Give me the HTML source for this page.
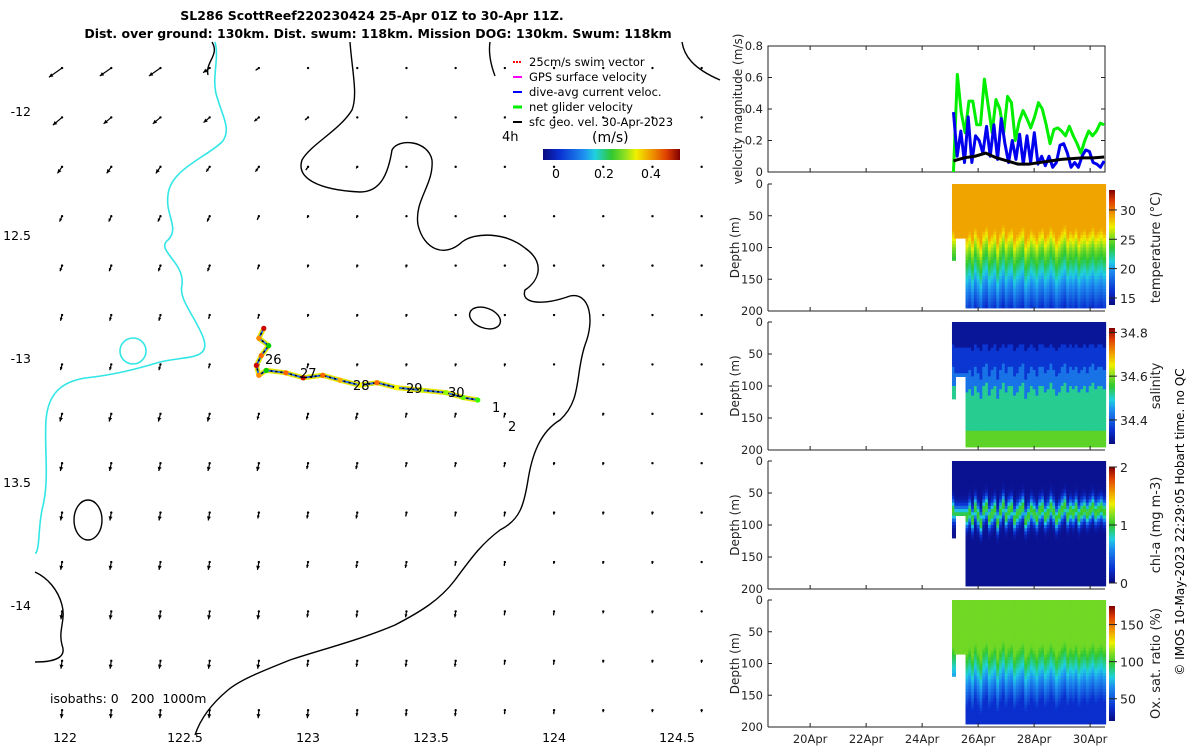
<!DOCTYPE html>
<html><head><meta charset="utf-8">
<style>
html,body{margin:0;padding:0;background:#fff;}
svg{display:block;font-family:"DejaVu Sans","Liberation Sans",sans-serif;}
</style></head>
<body>
<svg id="fig" width="1200" height="750" viewBox="0 0 1200 750" xmlns="http://www.w3.org/2000/svg">
<g font-weight="bold" font-size="12.5" text-anchor="middle" fill="#000">
<text x="372" y="20">SL286 ScottReef220230424 25-Apr 01Z to 30-Apr 11Z.</text>
<text x="378" y="38">Dist. over ground: 130km. Dist. swum: 118km. Mission DOG: 130km. Swum: 118km</text>
</g>
<defs>
<linearGradient id="cmh" x1="0" x2="1" y1="0" y2="0">
<stop offset="0" stop-color="#0a0a80"/><stop offset="0.12" stop-color="#0a30d0"/><stop offset="0.3" stop-color="#1e90f0"/><stop offset="0.38" stop-color="#20d0e0"/><stop offset="0.5" stop-color="#30c830"/><stop offset="0.6" stop-color="#90e020"/><stop offset="0.68" stop-color="#f0f000"/><stop offset="0.78" stop-color="#f0a000"/><stop offset="0.9" stop-color="#e04000"/><stop offset="1" stop-color="#800000"/>
</linearGradient>
<linearGradient id="cmv" x1="0" x2="0" y1="1" y2="0">
<stop offset="0" stop-color="#0a0a80"/><stop offset="0.12" stop-color="#0a30d0"/><stop offset="0.3" stop-color="#1e90f0"/><stop offset="0.38" stop-color="#20d0e0"/><stop offset="0.5" stop-color="#30c830"/><stop offset="0.6" stop-color="#90e020"/><stop offset="0.68" stop-color="#f0f000"/><stop offset="0.78" stop-color="#f0a000"/><stop offset="0.9" stop-color="#e04000"/><stop offset="1" stop-color="#800000"/>
</linearGradient>
</defs>
<g id="map">
<g fill="none" stroke="#000" stroke-width="1.4">
<path d="M350,42 C352,70 358,95 352,110 C340,130 310,145 302,160 C296,178 318,190 360,192 C380,192 388,175 392,150 C398,138 428,140 432,160 C434,185 414,200 418,225 C424,250 445,258 462,242 C475,232 505,232 525,248 C545,262 540,280 525,290 C520,305 545,305 570,296 C590,292 595,320 585,345 C575,375 582,400 560,420 C540,432 532,455 528,480 C524,505 520,520 500,530 C480,545 470,560 455,580 C440,600 420,612 395,625 C360,640 320,650 290,660 C260,672 240,680 228,690 C210,705 200,720 195,735"/>
<path d="M212,42 C220,55 205,62 208,75"/>
<path d="M490,42 C488,55 492,68 495,76"/>
<path d="M682,42 C684,55 692,68 720,80"/>
<ellipse cx="485" cy="318" rx="16" ry="10" transform="rotate(20 485 318)"/>
<ellipse cx="88" cy="520" rx="14" ry="20"/>
<path d="M35,572 C48,578 58,590 62,605 C66,620 58,630 62,645 C66,655 60,662 35,662"/>
</g>
<g fill="none" stroke="#33e6e6" stroke-width="1.6">
<path d="M215,42 C220,60 210,80 218,100 C222,115 232,130 222,142 C205,158 170,170 168,195 C165,215 180,228 168,240 C155,250 185,262 182,285 C178,300 198,320 204,340 C210,360 185,356 160,362 C140,368 115,375 85,378 C60,382 48,395 46,420 C44,450 50,480 42,510 C38,530 40,545 36,553 L35,553"/>
<circle cx="133" cy="351" r="13"/>
</g>
<g id="arrows"></g>
<g id="track"></g>
<g font-size="13" fill="#000">
<text x="265" y="364">26</text><text x="300" y="378">27</text><text x="353" y="390">28</text><text x="406" y="393">29</text><text x="448" y="397">30</text><text x="492" y="412">1</text><text x="508" y="431">2</text>
</g>
<g font-size="11.5" fill="#000">
<line x1="513" y1="62" x2="522" y2="62" stroke="#f00" stroke-width="2" stroke-dasharray="2 1"/><text x="529" y="66">25cm/s swim vector</text>
<line x1="513" y1="77" x2="522" y2="77" stroke="#f0f" stroke-width="2"/><text x="529" y="81">GPS surface velocity</text>
<line x1="513" y1="92" x2="522" y2="92" stroke="#00f" stroke-width="2"/><text x="529" y="96">dive-avg current veloc.</text>
<line x1="513" y1="107" x2="522" y2="107" stroke="#0e0" stroke-width="3"/><text x="529" y="111">net glider velocity</text>
<line x1="513" y1="122" x2="522" y2="122" stroke="#000" stroke-width="2"/><text x="529" y="126">sfc geo. vel. 30-Apr-2023</text>
<text x="502" y="141" font-size="13">4h</text>
<text x="592" y="142" font-size="14">(m/s)</text>
</g>
<g>
<rect x="543" y="149" width="137" height="11" fill="url(#cmh)"/>
<g font-size="12.5" text-anchor="middle"><text x="556" y="178">0</text><text x="604" y="178">0.2</text><text x="651" y="178">0.4</text></g>
</g>
<text x="50" y="703" font-size="12.5" xml:space="preserve">isobaths: 0   200  1000m</text>
<g font-size="12.5" text-anchor="middle">
<text x="65" y="742">122</text><text x="185" y="742">122.5</text><text x="308" y="742">123</text><text x="431" y="742">123.5</text><text x="554" y="742">124</text><text x="677" y="742">124.5</text>
</g>
<g font-size="12.5" text-anchor="end">
<text x="31" y="116">-12</text><text x="31" y="240">12.5</text><text x="31" y="363">-13</text><text x="31" y="487">13.5</text><text x="31" y="610">-14</text>
</g>
</g>
<g id="right"></g>
<text transform="translate(1184,522) rotate(-90)" text-anchor="middle" font-size="12">© IMOS 10-May-2023 22:29:05 Hobart time. no QC</text>
</svg>
<script>
// ---------- data ----------
const velTimesStart = 25.12, velTimesEnd = 30.5;
const netGliderVel = [0,0.62,0.38,0.25,0.45,0.45,0.3,0.3,0.59,0.42,0.25,0.46,0.4,0.25,0.48,0.44,0.2,0.32,0.39,0.34,0.28,0.35,0.44,0.4,0.3,0.18,0.27,0.28,0.26,0.23,0.29,0.23,0.18,0.12,0.2,0.26,0.23,0.26,0.31,0.3];
const diveAvgVel = [0.38,0.1,0.26,0.06,0.35,0.06,0.23,0.2,0.12,0.29,0.1,0.3,0.08,0.34,0.18,0.06,0.2,0.08,0.24,0.05,0.23,0.06,0.25,0.05,0.1,0.04,0.1,0.03,0.06,0.17,0.18,0.12,0.03,0.06,0.03,0.1,0.14,0.13,0.06,0.05,0.03,0.07];
const geoVel = [0.07,0.09,0.1,0.12,0.09,0.07,0.05,0.05,0.06,0.07,0.08,0.085,0.09,0.09,0.095];
const velTicks = [0,0.2,0.4,0.6,0.8];
const dateTicks = [20,22,24,26,28,30];
const dateLabels = ["20Apr","22Apr","24Apr","26Apr","28Apr","30Apr"];
const profileStart = 25.55, profileStep = 0.1;
const mixedLayerDepth = [80,72,85,66,78,90,70,64,82,75,68,88,72,62,80,70,66,84,76,70,64,86,78,68,74,82,70,66,80,74,64,72,84,76,68,62,78,70,74,66,80,72,68,76,70,64,74,70,66,72];
const depthTicks = [0,50,100,150,200];
const trackLon = [122.81,122.79,122.83,122.8,122.78,122.79,122.82,122.9,122.97,123.05,123.12,123.2,123.27,123.35,123.45,123.55,123.62,123.68];
const trackLat = [-12.88,-12.92,-12.95,-12.99,-13.03,-13.07,-13.05,-13.06,-13.08,-13.07,-13.09,-13.11,-13.1,-13.12,-13.13,-13.14,-13.16,-13.17];
const arrowLen = ["87742000000000","65543200000000","44433210000000","33332110000000","33332111000000","33322111000000","33322211110000","44443332221100","44444332221100","44443332221110","44444333221110","44444333322110","44444333322111","44444433322111"];
const arrowDir = [215,220,235,245,250,255,255,255,258,260,260,262,262,265];

// ---------- helpers ----------
const NS="http://www.w3.org/2000/svg";
function mk(tag, attrs, parent){const e=document.createElementNS(NS,tag);for(const k in attrs)e.setAttribute(k,attrs[k]);parent.appendChild(e);return e;}
const lonX = lon => 35 + (lon-121.88)*246;
const latY = lat => 111 + (-12-lat)*247;
const tX = d => 739 + (d-17.46)*28;

// ---------- map arrows ----------
const ag=document.getElementById('arrows');
for(let r=0;r<arrowLen.length;r++){
  for(let c=0;c<arrowLen[r].length;c++){
    const x=lonX(121.99+0.2*c), y=latY(-11.826-0.2*r);
    const L=Number(arrowLen[r][c])*2, a=arrowDir[r]*Math.PI/180;
    const x2=x+L*Math.cos(a), y2=y-L*Math.sin(a);
    const g=mk('g',{},ag);
    
    
    mk('circle',{cx:x,cy:y,r:1.2,fill:'#000'},g);
    if(L>0){
      mk('line',{x1:x,y1:y,x2:x2,y2:y2,stroke:'#000','stroke-width':1.2},g);
      const h=Math.min(4,L*0.5), ux=Math.cos(a), uy=-Math.sin(a);
      mk('path',{d:`M${x2},${y2} L${x2-h*ux+h*0.5*uy},${y2-h*uy-h*0.5*ux} L${x2-h*ux-h*0.5*uy},${y2-h*uy+h*0.5*ux}Z`,fill:'#000'},g);
    }
  }
}
// ---------- track ----------
const tg=document.getElementById('track');
const tpts=trackLon.map((lo,i)=>lonX(lo)+','+latY(trackLat[i])).join(' ');
const tl1=mk('polyline',{points:tpts,fill:'none',stroke:'#e8e800','stroke-width':5,'stroke-linejoin':'round'},tg);

const tl2=mk('polyline',{points:tpts,fill:'none',stroke:'#2a6cf0','stroke-width':2},tg);

const tl3=mk('polyline',{points:tpts,fill:'none',stroke:'#000','stroke-width':1.5,'stroke-dasharray':'2 3'},tg);

const trackColors=['#c00','#f80','#0c0','#f60','#c00','#f80','#0c0','#f60','#c00','#f60','#fa0','#ff0','#f60','#ff0','#cf0','#9f0','#6f0','#3f0'];
trackLon.forEach((lo,i)=>{const c=mk('circle',{cx:lonX(lo),cy:latY(trackLat[i]),r:2.6,fill:trackColors[i]},tg);

});

// ---------- right panels ----------
const R=document.getElementById('right');
const X0=768, X1=1105;
const cmapStops=[[0,[10,10,128]],[0.12,[10,48,208]],[0.3,[30,144,240]],[0.38,[32,208,224]],[0.5,[48,200,48]],[0.6,[144,224,32]],[0.68,[240,240,0]],[0.78,[240,160,0]],[0.9,[224,64,0]],[1,[128,0,0]]];
function cmap(t){t=Math.max(0,Math.min(1,t));for(let i=1;i<cmapStops.length;i++){if(t<=cmapStops[i][0]){const a=cmapStops[i-1],b=cmapStops[i];const f=(t-a[0])/(b[0]-a[0]);return 'rgb('+a[1].map((v,k)=>Math.round(v+(b[1][k]-v)*f)).join(',')+')';}}return 'rgb(128,0,0)';}
// velocity panel
(function(){
  const top=46,bot=172; const vy=v=>bot-v*(bot-top)/0.8;
  const g=mk('g',{},R);
  
  
  mk('rect',{x:X0,y:top,width:X1-X0,height:bot-top,fill:'none',stroke:'#222'},g);
  velTicks.forEach(v=>{mk('text',{x:763,y:vy(v)+4,'text-anchor':'end','font-size':11.5,fill:'#222'},g).textContent=String(v);
    mk('line',{x1:X0,y1:vy(v),x2:X0+4,y2:vy(v),stroke:'#222'},g);mk('line',{x1:X1,y1:vy(v),x2:X1-4,y2:vy(v),stroke:'#222'},g);});
  dateTicks.forEach(d=>{mk('line',{x1:tX(d),y1:bot,x2:tX(d),y2:bot-4,stroke:'#222'},g);mk('line',{x1:tX(d),y1:top,x2:tX(d),y2:top+4,stroke:'#222'},g);});
  const lab=mk('text',{transform:'translate(742,109) rotate(-90)','text-anchor':'middle','font-size':12,fill:'#222'},g);lab.textContent='velocity magnitude (m/s)';
  function series(arr,color,w,name){const n=arr.length;const pts=arr.map((v,i)=>tX(velTimesStart+(velTimesEnd-velTimesStart)*i/(n-1))+','+vy(v)).join(' ');
    const p=mk('polyline',{points:pts,fill:'none',stroke:color,'stroke-width':w,'stroke-linejoin':'round'},g);
    
    }
  series(netGliderVel,'#00ee00',3,'net-glider-velocity-line');
  series(diveAvgVel,'#0000ee',3,'dive-avg-current-line');
  series(geoVel,'#000',3,'geostrophic-velocity-line');
})();
// depth panels
function tempProfile(d,m){if(d<m)return 29;const z=d-m;if(z<30)return 29-z*0.13;if(z<70)return 25-(z-30)*0.1;return Math.max(15.5,21-(z-70)*0.09);}
const panels=[
 {top:184,bot:311,name:'temperature-panel',label:'temperature (°C)',vmin:13.8,vmax:33.4,ticks:[15,20,25,30],f:tempProfile},
 {top:322,bot:450,name:'salinity-panel',label:'salinity',vmin:34.29,vmax:34.82,ticks:[34.4,34.6,34.8],
  f:(d,m)=> d<m*0.5?34.31:(d<m?34.36:(d<m+30?34.42:(d<170?34.52:34.58)))},
 {top:461,bot:589,name:'chlorophyll-panel',label:'chl-a (mg m-3)',vmin:0,vmax:2,ticks:[0,1,2],
  f:(d,m)=> 0.05+1.0*Math.exp(-Math.pow((d-(m+5))/16,2))},
 {top:600,bot:727,name:'oxygen-panel',label:'Ox. sat. ratio (%)',vmin:20,vmax:175,ticks:[50,100,150],
  f:(d,m)=> d<m?108:Math.max(38,108-(d-m)*0.8)}
];
panels.forEach((P,pi)=>{
  const g=mk('g',{},R);
  
  
  const dy=d=>P.top+d*(P.bot-P.top)/200;
  for(let d=0;d<120;d+=5){mk('rect',{x:tX(25.12)-1.5,y:dy(d),width:4,height:dy(5)-dy(0)+0.6,fill:cmap((P.f(d,70)-P.vmin)/(P.vmax-P.vmin))},g);}
  for(let t=25.15;t<profileStart;t+=0.1){for(let d=0;d<85;d+=5){mk('rect',{x:tX(t),y:dy(d),width:28*0.1+0.6,height:dy(5)-dy(0)+0.6,fill:cmap((P.f(d,80)-P.vmin)/(P.vmax-P.vmin))},g);}}
  mixedLayerDepth.forEach((m,i)=>{
    const t=profileStart+i*profileStep;
    for(let d=0;d<195;d+=5){
      mk('rect',{x:tX(t),y:dy(d),width:28*profileStep+0.6,height:dy(5)-dy(0)+0.6,fill:cmap((P.f(d,m)-P.vmin)/(P.vmax-P.vmin))},g);
    }
  });
  mk('line',{x1:X0,y1:P.top,x2:X0,y2:P.bot,stroke:'#222'},g);
  mk('line',{x1:X0,y1:P.bot,x2:X1,y2:P.bot,stroke:'#222'},g);
  depthTicks.forEach(d=>{mk('text',{x:763,y:dy(d)+4,'text-anchor':'end','font-size':11.5,fill:'#222'},g).textContent=String(d);
    mk('line',{x1:X0,y1:dy(d),x2:X0+4,y2:dy(d),stroke:'#222'},g);});
  dateTicks.forEach(d=>{mk('line',{x1:tX(d),y1:P.bot,x2:tX(d),y2:P.bot-4,stroke:'#222'},g);});
  mk('text',{transform:`translate(739,${(P.top+P.bot)/2}) rotate(-90)`,'text-anchor':'middle','font-size':12,fill:'#222'},g).textContent='Depth (m)';
  const cbT=P.top+6, cbB=P.bot-6;
  const cb=mk('rect',{x:1109,y:cbT,width:6,height:cbB-cbT,fill:'url(#cmv)'},g);
  
  
  const cy=v=>cbB-(v-P.vmin)/(P.vmax-P.vmin)*(cbB-cbT);
  P.ticks.forEach(v=>{mk('line',{x1:1109,y1:cy(v),x2:1117,y2:cy(v),stroke:'#222'},g);
    mk('text',{x:1120,y:cy(v)+5,'font-size':12.5,fill:'#222'},g).textContent=String(v);});
  mk('text',{transform:`translate(1160,${(P.top+P.bot)/2}) rotate(-90)`,'text-anchor':'middle','font-size':13,fill:'#222'},g).textContent=P.label;
});
dateTicks.forEach((d,i)=>{const t=mk('text',{x:tX(d),y:743,'text-anchor':'middle','font-size':11.5,fill:'#222'},R);t.textContent=dateLabels[i];

});
</script>
</body></html>
